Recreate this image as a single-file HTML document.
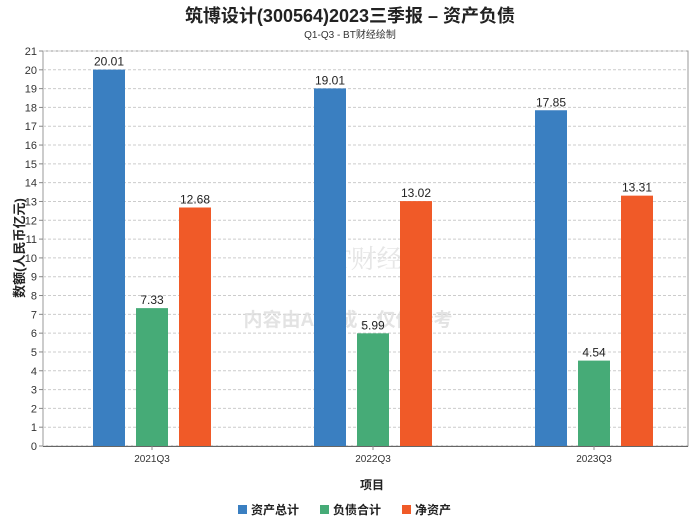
<!DOCTYPE html>
<html><head><meta charset="utf-8"><style>
body{margin:0;background:#fff;}
svg{display:block;font-family:"Liberation Sans","Noto Sans CJK SC",sans-serif;}
</style></head><body>
<svg id="c" width="700" height="524" xmlns="http://www.w3.org/2000/svg">
<text x="350" y="22" text-anchor="middle" font-size="18" font-weight="bold" fill="#222">筑博设计(300564)2023三季报 – 资产负债</text>
<text x="350" y="38" text-anchor="middle" font-size="10" fill="#333">Q1-Q3 - BT财经绘制</text>
<g id="grid"></g>
<text x="348" y="326" text-anchor="middle" font-size="19" font-weight="bold" fill="#ddd" opacity="0.8">内容由AI生成，仅供参考</text>
<text x="360" y="268" text-anchor="middle" font-size="26" font-family="Liberation Serif,Noto Serif CJK SC,serif" fill="#e6e6e6">BT财经</text>
<g id="bars"></g>
<text transform="translate(24,248) rotate(-90)" text-anchor="middle" font-size="13" font-weight="bold" fill="#222">数额(人民币亿元)</text>
<text x="372" y="489" text-anchor="middle" font-size="12" font-weight="bold" fill="#222">项目</text>
<g id="legend"></g>
</svg>
<script>
const categories=["2021Q3","2022Q3","2023Q3"];
const seriesNames=["资产总计","负债合计","净资产"];
const assets=[20.01,19.01,17.85];
const liabilities=[7.33,5.99,4.54];
const equity=[12.68,13.02,13.31];
const yTicks=[0,1,2,3,4,5,6,7,8,9,10,11,12,13,14,15,16,17,18,19,20,21];
const colors=["#3a7fc1","#46ab77","#f05a28"];
const NS="http://www.w3.org/2000/svg";
const L=43,R=688,T=51,B=446,yMax=21;
const y=v=>B-(v/yMax)*(B-T);
const xC=i=>152+i*221;
function mk(tag,attrs,parent){const e=document.createElementNS(NS,tag);for(const k in attrs)e.setAttribute(k,attrs[k]);parent.appendChild(e);return e;}
const grid=document.getElementById('grid');
mk('rect',{x:L,y:T,width:R-L,height:B-T,fill:'none',stroke:'#999'},grid);
yTicks.forEach(t=>{
  const g=mk('line',{x1:L,x2:R,y1:y(t),y2:y(t),stroke:'#ccc','stroke-dasharray':'3,2'},grid);
  
  
  mk('line',{x1:L-4,x2:L,y1:y(t),y2:y(t),stroke:'#888'},grid);
  const tx=mk('text',{x:L-6,y:y(t)+4,'text-anchor':'end','font-size':11,fill:'#333'},grid);
  tx.textContent=t;
  
  
});
mk('line',{x1:L,x2:R,y1:B+0.5,y2:B+0.5,stroke:'#666'},grid);
categories.forEach((c,i)=>{
  mk('line',{x1:xC(i),x2:xC(i),y1:B,y2:B+4,stroke:'#888'},grid);
  const tx=mk('text',{x:xC(i),y:B+16,'text-anchor':'middle','font-size':10,fill:'#333'},grid);
  tx.textContent=c;
  
  
});
const bars=document.getElementById('bars');
const series=[assets,liabilities,equity];
const offs=[-43,0,43],bw=32;
series.forEach((s,si)=>{s.forEach((v,i)=>{
  const x=xC(i)+offs[si]-bw/2;
  const r=mk('rect',{x:x,y:y(v),width:bw,height:B-y(v),fill:colors[si]},bars);
  
  
  const t=mk('text',{x:x+bw/2,y:y(v)-4,'text-anchor':'middle','font-size':12,fill:'#222'},bars);
  t.textContent=v.toFixed(2);
  
  
});});
const leg=document.getElementById('legend');
const lx=[238,320,402];
seriesNames.forEach((n,i)=>{
  const r=mk('rect',{x:lx[i],y:505,width:9,height:9,fill:colors[i]},leg);
  
  
  const t=mk('text',{x:lx[i]+13,y:514,'font-size':12,'font-weight':'bold',fill:'#222'},leg);
  t.textContent=n;
  
  
});
</script>
</body></html>
